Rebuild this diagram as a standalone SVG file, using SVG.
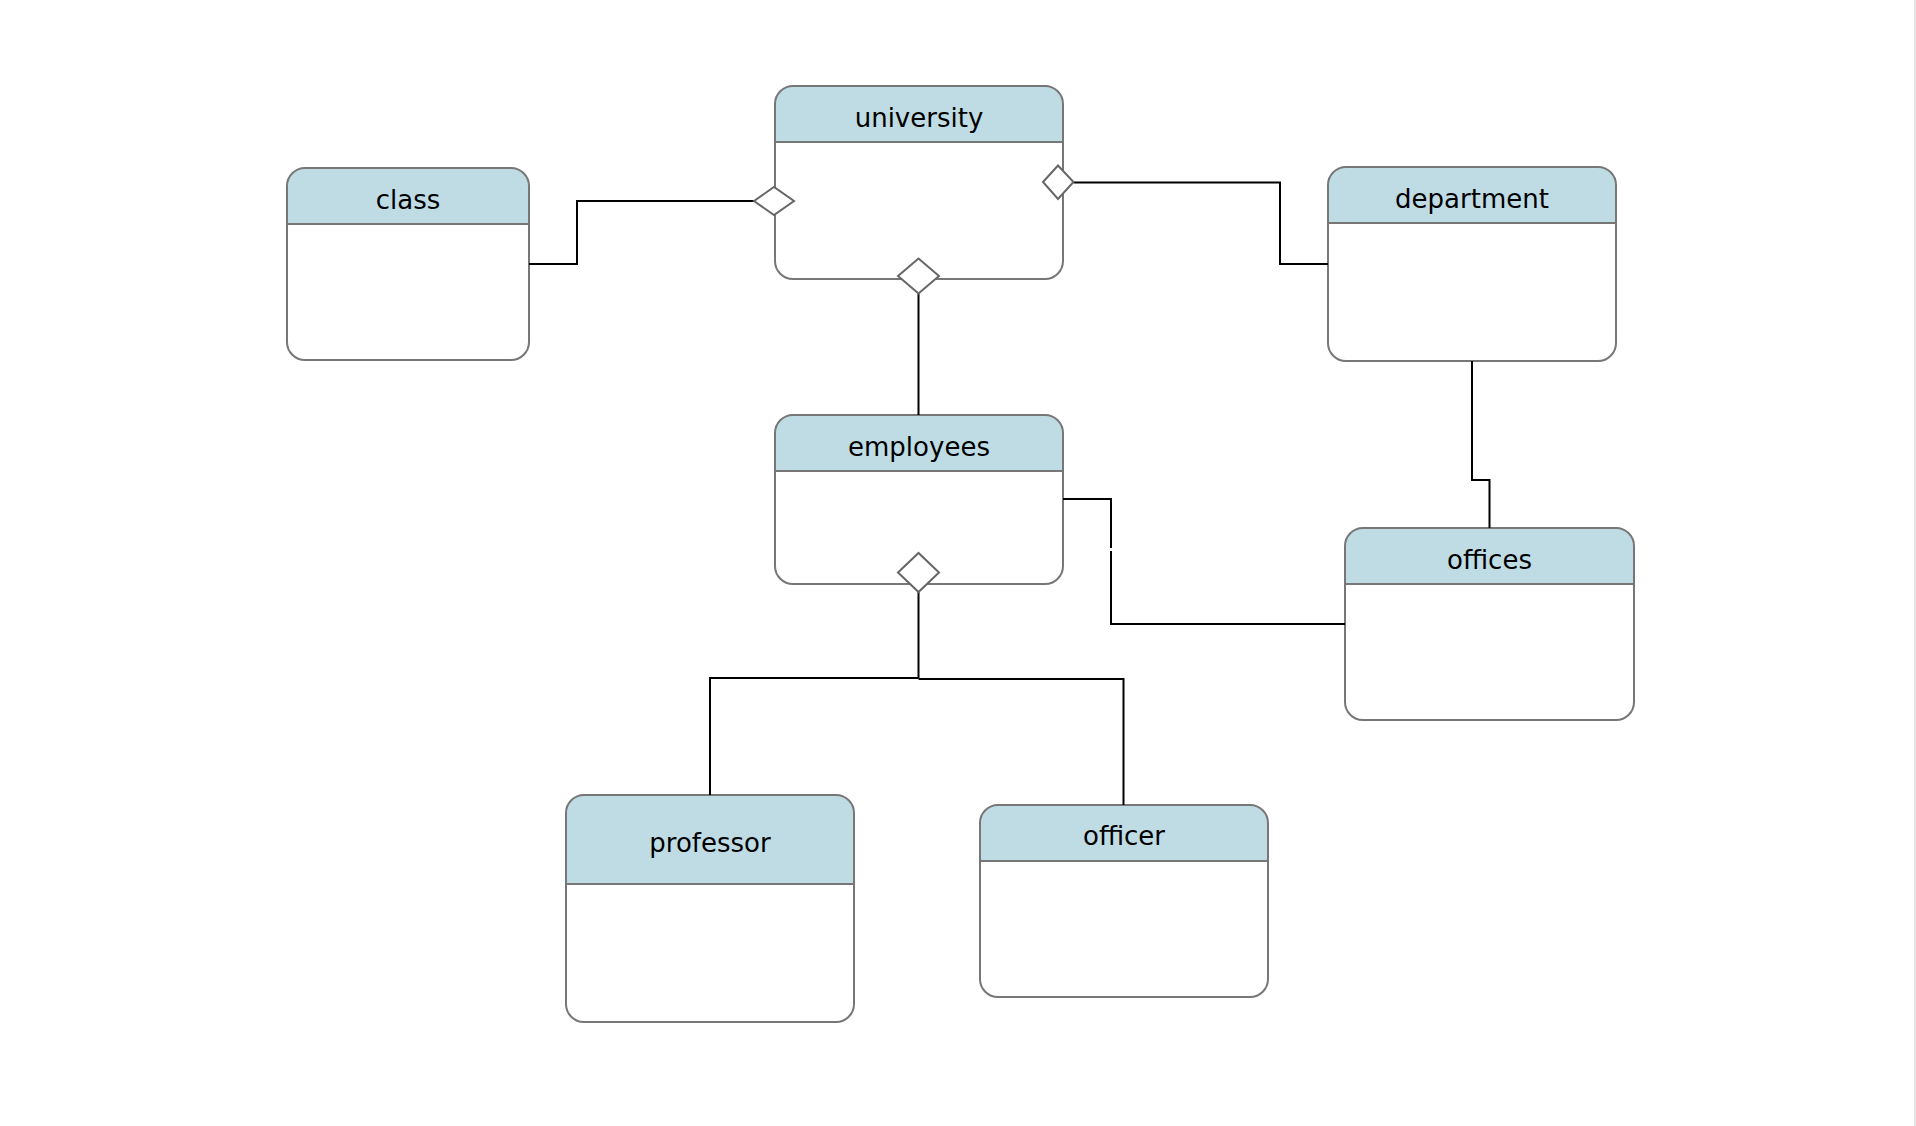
<svg xmlns="http://www.w3.org/2000/svg" width="1916" height="1126" viewBox="0 0 1916 1126">
<style>
.hdr{fill:#bfdce5}
.box{fill:none;stroke:#777;stroke-width:2}
.sep{stroke:#777;stroke-width:2}
.lbl{font-family:"DejaVu Sans",Verdana,sans-serif;font-size:26px;fill:#000;text-anchor:middle}
.con{fill:none;stroke:#000;stroke-width:2}
.dia{fill:#fff;stroke:#666;stroke-width:2}
</style>
<rect x="0" y="0" width="1916" height="1126" fill="#fff"/>
<rect x="1914" y="0" width="2" height="1126" fill="#e4e4e4"/>

<g id="university">
<rect x="775" y="86" width="288" height="193" rx="18" fill="#fff"/>
<path class="hdr" d="M775,142 V104 A18,18 0 0 1 793,86 H1045 A18,18 0 0 1 1063,104 V142 Z"/>
<line class="sep" x1="775" y1="142" x2="1063" y2="142"/>
<rect class="box" x="775" y="86" width="288" height="193" rx="18"/>
<text class="lbl" x="919" y="126.5">university</text>
</g>

<g id="class">
<rect x="287" y="168" width="242" height="192" rx="18" fill="#fff"/>
<path class="hdr" d="M287,224 V186 A18,18 0 0 1 305,168 H511 A18,18 0 0 1 529,186 V224 Z"/>
<line class="sep" x1="287" y1="224" x2="529" y2="224"/>
<rect class="box" x="287" y="168" width="242" height="192" rx="18"/>
<text class="lbl" x="408" y="208.5">class</text>
</g>

<g id="department">
<rect x="1328" y="167" width="288" height="194" rx="18" fill="#fff"/>
<path class="hdr" d="M1328,223 V185 A18,18 0 0 1 1346,167 H1598 A18,18 0 0 1 1616,185 V223 Z"/>
<line class="sep" x1="1328" y1="223" x2="1616" y2="223"/>
<rect class="box" x="1328" y="167" width="288" height="194" rx="18"/>
<text class="lbl" x="1472" y="207.5">department</text>
</g>

<g id="employees">
<rect x="775" y="415" width="288" height="169" rx="18" fill="#fff"/>
<path class="hdr" d="M775,471 V433 A18,18 0 0 1 793,415 H1045 A18,18 0 0 1 1063,433 V471 Z"/>
<line class="sep" x1="775" y1="471" x2="1063" y2="471"/>
<rect class="box" x="775" y="415" width="288" height="169" rx="18"/>
<text class="lbl" x="919" y="455.5">employees</text>
</g>

<g id="offices">
<rect x="1345" y="528" width="289" height="192" rx="18" fill="#fff"/>
<path class="hdr" d="M1345,584 V546 A18,18 0 0 1 1363,528 H1616 A18,18 0 0 1 1634,546 V584 Z"/>
<line class="sep" x1="1345" y1="584" x2="1634" y2="584"/>
<rect class="box" x="1345" y="528" width="289" height="192" rx="18"/>
<text class="lbl" x="1489.5" y="568.5">offices</text>
</g>

<g id="professor">
<rect x="566" y="795" width="288" height="227" rx="18" fill="#fff"/>
<path class="hdr" d="M566,884 V813 A18,18 0 0 1 584,795 H836 A18,18 0 0 1 854,813 V884 Z"/>
<line class="sep" x1="566" y1="884" x2="854" y2="884"/>
<rect class="box" x="566" y="795" width="288" height="227" rx="18"/>
<text class="lbl" x="710" y="852">professor</text>
</g>

<g id="officer">
<rect x="980" y="805" width="288" height="192" rx="18" fill="#fff"/>
<path class="hdr" d="M980,861 V823 A18,18 0 0 1 998,805 H1250 A18,18 0 0 1 1268,823 V861 Z"/>
<line class="sep" x1="980" y1="861" x2="1268" y2="861"/>
<rect class="box" x="980" y="805" width="288" height="192" rx="18"/>
<text class="lbl" x="1124" y="845">officer</text>
</g>

<g id="connectors">
<path class="con" d="M529,264 H577 V201 H754"/>
<polygon class="dia" points="754,201 774,187 794,201 774,215"/>
<path class="con" d="M1073.5,182.5 H1280 V264 H1328"/>
<polygon class="dia" points="1043,182 1058,165.5 1073.5,182 1058,199"/>
<path class="con" d="M918.5,293.5 V415"/>
<polygon class="dia" points="898,276 918.5,258.5 939,276 918.5,293.5"/>
<path class="con" d="M1472,361 V480 H1489.5 V528"/>
<path class="con" d="M1063,499 H1111 V548"/>
<path class="con" d="M1111,551 V624 H1345"/>
<path class="con" d="M918.5,592 V678"/>
<path class="con" d="M918.5,678 H710 V795"/>
<path class="con" d="M918.5,679 H1123.5 V805"/>
<polygon class="dia" points="898,572.5 918.5,553 939,572.5 918.5,592"/>
</g>
</svg>
